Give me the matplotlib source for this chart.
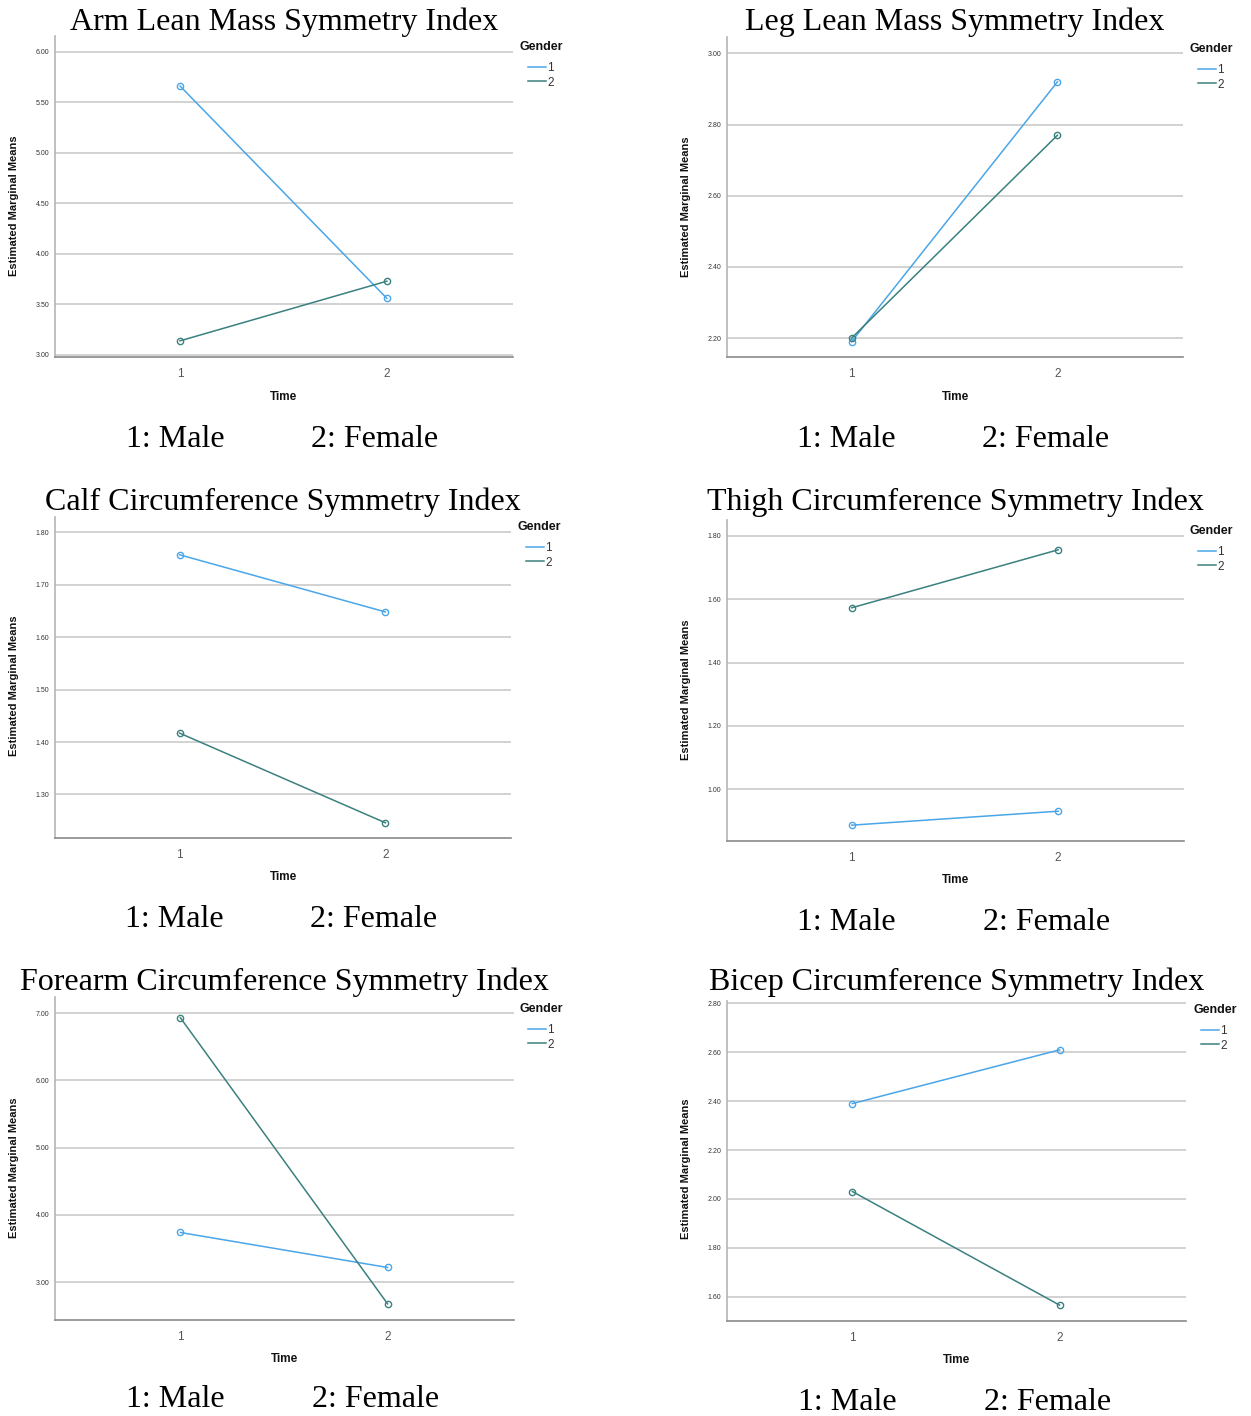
import matplotlib
matplotlib.use("Agg")
import matplotlib.pyplot as plt
from matplotlib.lines import Line2D

W, H = 1251, 1416
fig = plt.figure(figsize=(W / 100, H / 100), dpi=100, facecolor='white')

# Data (estimated marginal means)
time = [1, 2]
titles = ["Arm Lean Mass Symmetry Index", "Leg Lean Mass Symmetry Index",
          "Calf Circumference Symmetry Index", "Thigh Circumference Symmetry Index",
          "Forearm Circumference Symmetry Index", "Bicep Circumference Symmetry Index"]
arm_male = [5.66, 3.56]
arm_female = [3.14, 3.73]
leg_male = [2.19, 2.92]
leg_female = [2.20, 2.77]
calf_male = [1.757, 1.648]
calf_female = [1.417, 1.246]
thigh_male = [0.887, 0.931]
thigh_female = [1.573, 1.756]
forearm_male = [3.74, 3.22]
forearm_female = [6.93, 2.68]
bicep_male = [2.39, 2.61]
bicep_female = [2.03, 1.565]
male_series = [arm_male, leg_male, calf_male, thigh_male, forearm_male, bicep_male]
female_series = [arm_female, leg_female, calf_female, thigh_female, forearm_female, bicep_female]
yticks = [[3.0, 3.5, 4.0, 4.5, 5.0, 5.5, 6.0],
          [2.2, 2.4, 2.6, 2.8, 3.0],
          [1.3, 1.4, 1.5, 1.6, 1.7, 1.8],
          [1.0, 1.2, 1.4, 1.6, 1.8],
          [3.0, 4.0, 5.0, 6.0, 7.0],
          [1.6, 1.8, 2.0, 2.2, 2.4, 2.6, 2.8]]
ylims = [(2.98, 6.155), (2.147, 3.046), (1.217, 1.829),
         (0.837, 1.85), (2.44, 7.238), (1.50, 2.81)]

# layout in pixels: left, right, top, bottom of each plot area
boxes = [(55, 513, 36, 357), (727, 1183, 37, 357),
         (55, 511, 517, 838), (727, 1184, 520, 841),
         (55, 514, 997, 1320), (727, 1186, 1001, 1321)]
title_base = [30, 30, 510, 510, 990, 990]
caption_base = [447, 447, 927, 930, 1407, 1410]
time_y = [397, 397, 877, 880, 1359, 1360]
ylab_y = [206, 207, 686, 690, 1168, 1169]
legend_xy = [(520, 47), (1190, 49), (518, 527), (1190, 531), (520, 1009), (1193, 1010)]

c_male = '#4aa6e8'
c_female = '#3a807e'
serif = ['Liberation Serif', 'DejaVu Serif']
sans = ['Liberation Sans', 'DejaVu Sans']


def fx(x):
    return x / W


def fy(y):
    return 1 - y / H


for i in range(6):
    l, r, t, b = boxes[i]
    ax = fig.add_axes([fx(l), fy(b), (r - l) / W, (b - t) / H])
    ax.plot(time, male_series[i], color=c_male, lw=1.1, marker='o', markersize=4.5,
            markerfacecolor='none', markeredgewidth=1.0, zorder=3)
    ax.plot(time, female_series[i], color=c_female, lw=1.1, marker='o', markersize=4.5,
            markerfacecolor='none', markeredgewidth=1.0, zorder=3)
    ax.set_xlim(0.395, 2.61)
    ax.set_ylim(*ylims[i])
    ax.set_xticks(time)
    ax.set_xticklabels(['1', '2'], fontsize=8.5, color='#555555', family=sans)
    ax.set_yticks(yticks[i])
    ax.set_yticklabels(['%.2f' % v for v in yticks[i]], fontsize=5, color='#333333', family=sans)
    ax.tick_params(axis='both', length=0)
    ax.tick_params(axis='y', pad=4)
    ax.tick_params(axis='x', pad=8)
    ax.yaxis.grid(True, color='#d2d2d2', linewidth=1.4)
    ax.set_axisbelow(True)
    ax.spines['top'].set_visible(False)
    ax.spines['right'].set_visible(False)
    ax.spines['left'].set_color('#b5b5b5')
    ax.spines['bottom'].set_color('#8a8a8a')
    ax.spines['left'].set_linewidth(1.2)
    ax.spines['bottom'].set_linewidth(1.2)

    cx = (l + r) / 2
    fig.text(fx(cx), fy(title_base[i]), titles[i], ha='center', va='baseline',
             fontsize=23, family=serif)
    fig.text(fx(cx), fy(time_y[i]), 'Time', ha='center', va='center',
             fontsize=8.5, fontweight='bold', family=sans, color='#111111')
    fig.text(fx(l - 41), fy(ylab_y[i]), 'Estimated Marginal Means', ha='center', va='center',
             rotation=90, fontsize=8, fontweight='bold', family=sans, color='#111111')
    fig.text(fx(cx - 109), fy(caption_base[i]), '1: Male', ha='center', va='baseline',
             fontsize=23, family=serif)
    fig.text(fx(cx + 91), fy(caption_base[i]), '2: Female', ha='center', va='baseline',
             fontsize=23, family=serif)

    # legend: title as text, entries indented below it
    lx, ly = legend_xy[i]
    fig.text(fx(lx), fy(ly), 'Gender', ha='left', va='center', fontsize=9,
             fontweight='bold', family=sans, color='#111111')
    handles = [Line2D([], [], color=c_male, lw=1.1), Line2D([], [], color=c_female, lw=1.1)]
    leg = ax.legend(handles, ['1', '2'], loc='upper left',
                    bbox_to_anchor=(fx(lx + 8), fy(ly + 15)), bbox_transform=fig.transFigure,
                    frameon=False, prop={'family': sans, 'size': 8.5},
                    handlelength=1.5, handletextpad=0.15, labelspacing=0.22,
                    borderpad=0, borderaxespad=0)
    for txt in leg.get_texts():
        txt.set_color('#333333')

fig.savefig('out.png', dpi=100, facecolor='white')
